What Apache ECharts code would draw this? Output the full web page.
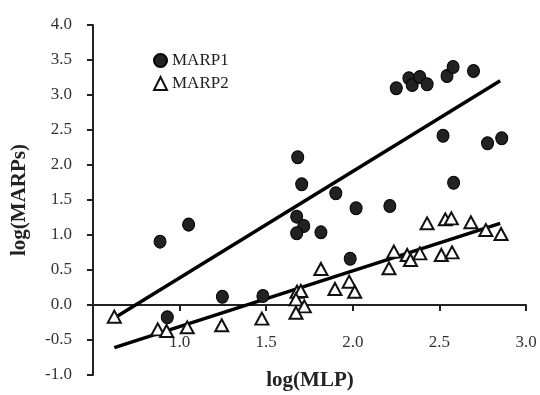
<!DOCTYPE html>
<html>
<head>
<meta charset="utf-8">
<script src="https://cdn.jsdelivr.net/npm/echarts@6/dist/echarts.min.js"></script>
<style>
  html, body { margin: 0; padding: 0; background: #fff; }
  #chart { width: 540px; height: 395px; }
</style>
</head>
<body>
<div id="chart"></div>
<script>
// log(MLP), log(MARPs) pairs
var marp1 = [
    [0.887, 0.905], [1.052, 1.148], [0.929, -0.176], [1.247, 0.119], [1.481, 0.129],
    [1.682, 2.11], [1.705, 1.724], [1.902, 1.596], [2.019, 1.381], [1.676, 1.262],
    [1.717, 1.129], [1.676, 1.024], [1.816, 1.038], [1.985, 0.661], [2.214, 1.414],
    [2.251, 3.096], [2.324, 3.239], [2.343, 3.143], [2.387, 3.257], [2.429, 3.153],
    [2.544, 3.271], [2.579, 3.40], [2.697, 3.343], [2.521, 2.419], [2.582, 1.747],
    [2.778, 2.31], [2.860, 2.381]
];
var marp2 = [
    [0.623, -0.167], [0.874, -0.348], [0.925, -0.371], [1.044, -0.319], [1.243, -0.29],
    [1.475, -0.195], [1.816, 0.514], [1.678, 0.19], [1.70, 0.20], [1.672, 0.08],
    [1.72, -0.02], [1.672, -0.11], [1.897, 0.229], [1.979, 0.333], [2.011, 0.19],
    [2.429, 1.167], [2.534, 1.224], [2.569, 1.238], [2.682, 1.181], [2.768, 1.071],
    [2.856, 1.014], [2.237, 0.762], [2.209, 0.524], [2.314, 0.714], [2.333, 0.643],
    [2.387, 0.738], [2.511, 0.714], [2.573, 0.752]
];
// regression line end points
var fit1 = [[0.628, -0.18], [2.851, 3.204]];
var fit2 = [[0.623, -0.61], [2.851, 1.167]];
// x tick labels, hung under the zero line
var xLabels = [1.0, 1.5, 2.0, 2.5, 3.0];

var font = '"Liberation Serif", "Times New Roman", serif';

var myChart = echarts.init(document.getElementById('chart'), null, { renderer: 'canvas' });
var option = {
    animation: false,
    backgroundColor: '#fff',
    grid: { left: 93, right: 14, top: 25, bottom: 20 },
    title: {
        text: 'log(MLP)',
        left: 310,
        top: 370,
        textAlign: 'center',
        padding: 0,
        textStyle: { fontFamily: font, fontSize: 21, fontWeight: 'bold', color: '#222' }
    },
    legend: {
        orient: 'vertical',
        left: 148,
        top: 47,
        itemGap: 6,
        itemWidth: 13,
        itemHeight: 13,
        textStyle: { fontFamily: font, fontSize: 17, color: '#222' },
        data: ['MARP1', 'MARP2']
    },
    xAxis: {
        type: 'value',
        min: 0.5,
        max: 3.0,
        interval: 0.5,
        axisLine: { show: true, onZero: true, lineStyle: { color: '#222', width: 2 } },
        axisTick: { show: true, inside: false, length: 6, lineStyle: { color: '#222', width: 2 } },
        axisLabel: { show: false },
        splitLine: { show: false }
    },
    yAxis: {
        type: 'value',
        min: -1.0,
        max: 4.0,
        interval: 0.5,
        name: 'log(MARPs)',
        nameLocation: 'middle',
        nameGap: 63,
        nameTextStyle: { fontFamily: font, fontSize: 21, fontWeight: 'bold', color: '#222' },
        axisLine: { show: true, onZero: false, lineStyle: { color: '#222', width: 2 } },
        axisTick: { show: true, length: 6, lineStyle: { color: '#222', width: 2 } },
        axisLabel: {
            margin: 21,
            fontFamily: font, fontSize: 17, color: '#333',
            formatter: function (v) { return v.toFixed(1); }
        },
        splitLine: { show: false }
    },
    series: [
        {
            name: 'xlabels',
            type: 'custom',
            data: xLabels,
            silent: true,
            encode: { x: 0 },
            renderItem: function (params, api) {
                var v = api.value(0);
                var p = api.coord([v, 0]);
                return {
                    type: 'text',
                    x: p[0],
                    y: p[1] + 38,
                    style: {
                        text: v.toFixed(1),
                        align: 'center',
                        verticalAlign: 'middle',
                        fill: '#333',
                        font: '17px ' + font
                    }
                };
            },
            z: 2
        },
        {
            name: 'MARP1',
            type: 'scatter',
            symbol: 'circle',
            symbolSize: [12, 13],
            itemStyle: { color: '#222', borderColor: '#000', borderWidth: 1, opacity: 1 },
            data: marp1,
            z: 3
        },
        {
            name: 'MARP2',
            type: 'scatter',
            symbol: 'triangle',
            symbolSize: [13, 12],
            itemStyle: { color: '#fff', borderColor: '#111', borderWidth: 2, opacity: 1 },
            data: marp2,
            z: 3
        },
        {
            name: 'fit1',
            type: 'line',
            data: fit1,
            symbol: 'none',
            lineStyle: { color: '#000', width: 3.5 },
            z: 2
        },
        {
            name: 'fit2',
            type: 'line',
            data: fit2,
            symbol: 'none',
            lineStyle: { color: '#000', width: 3.5 },
            z: 2
        }
    ]
};
myChart.setOption(option);
</script>
</body>
</html>
